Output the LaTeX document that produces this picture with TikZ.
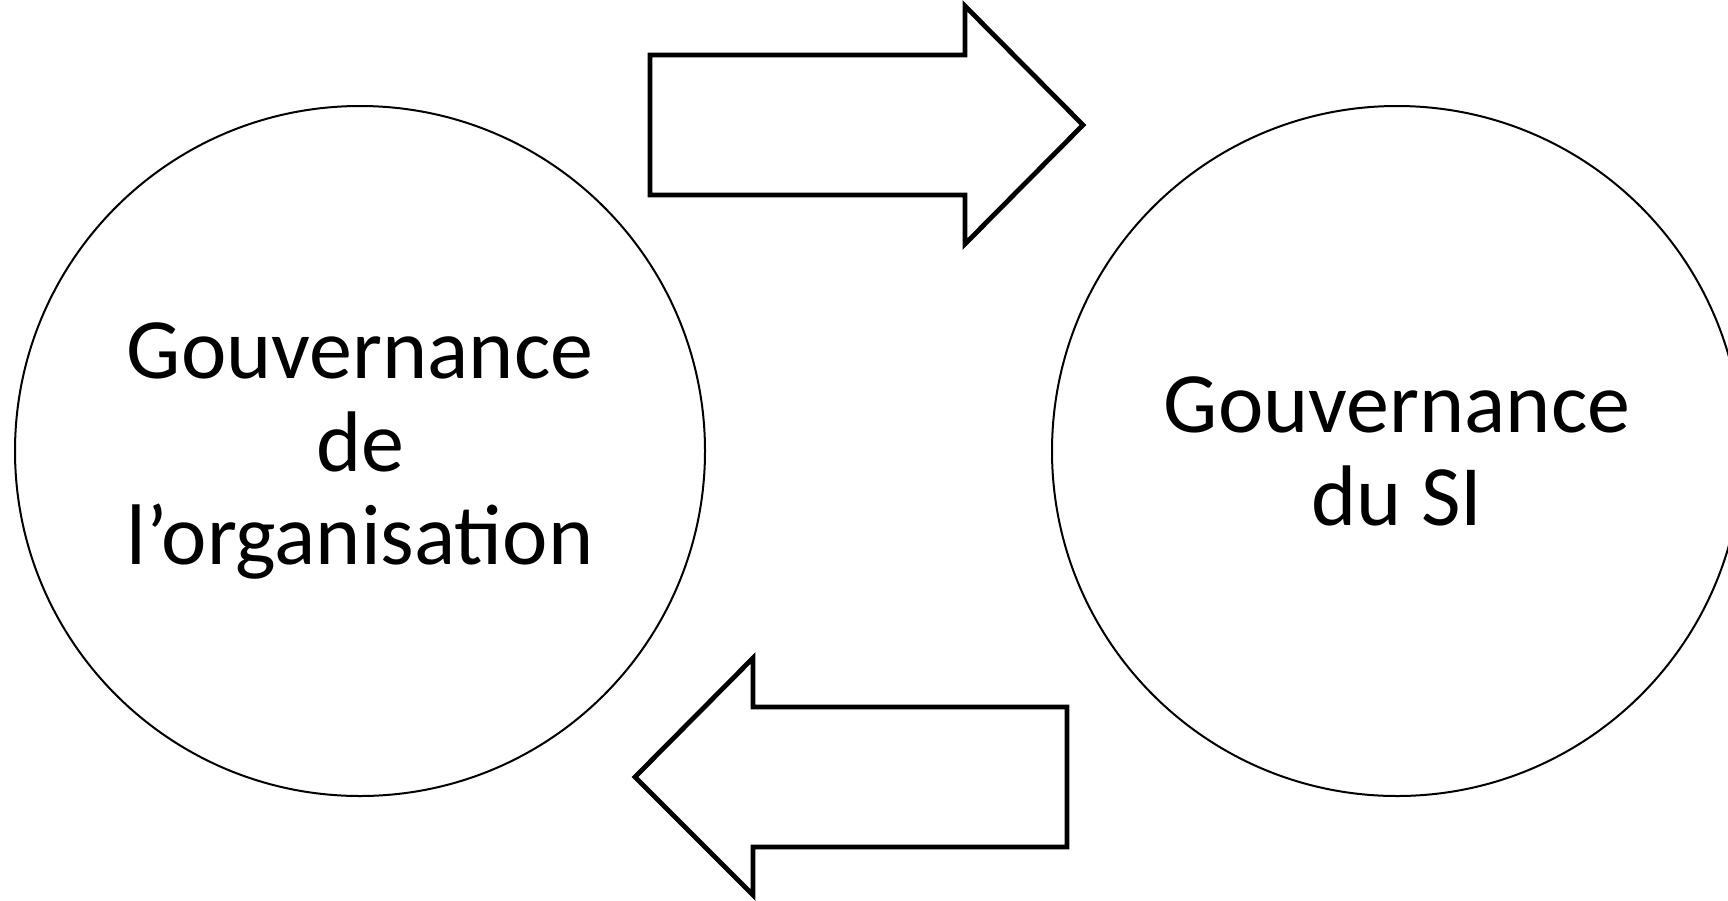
\documentclass[tikz,border=0pt]{standalone}
\usepackage{fontspec}
\setmainfont{Carlito}
\begin{document}
\begin{tikzpicture}[x=0.5pt,y=-0.5pt,
  govcircle/.style={circle,draw=black,line width=1pt,minimum size=690*0.5pt,inner sep=0pt,
    font=\fontsize{43pt}{46.5pt}\selectfont,align=center},
  bigarrow/.style={draw=black,line width=2.4pt,line join=miter,fill=white}]
\useasboundingbox (0,0) rectangle (1728,900);
\node[govcircle] (org) at (360,451) {Gouvernance\\de\\l’organisation};
\node[govcircle] (si) at (1397,451) {Gouvernance\\du SI};
\draw[bigarrow] (650,55) -- (965,55) -- (965,6) -- (1083,125) -- (965,244) -- (965,195) -- (650,195) -- cycle;
\draw[bigarrow] (1067,707) -- (753,707) -- (753,658) -- (635,777) -- (753,895) -- (753,847) -- (1067,847) -- cycle;
\end{tikzpicture}
\end{document}
